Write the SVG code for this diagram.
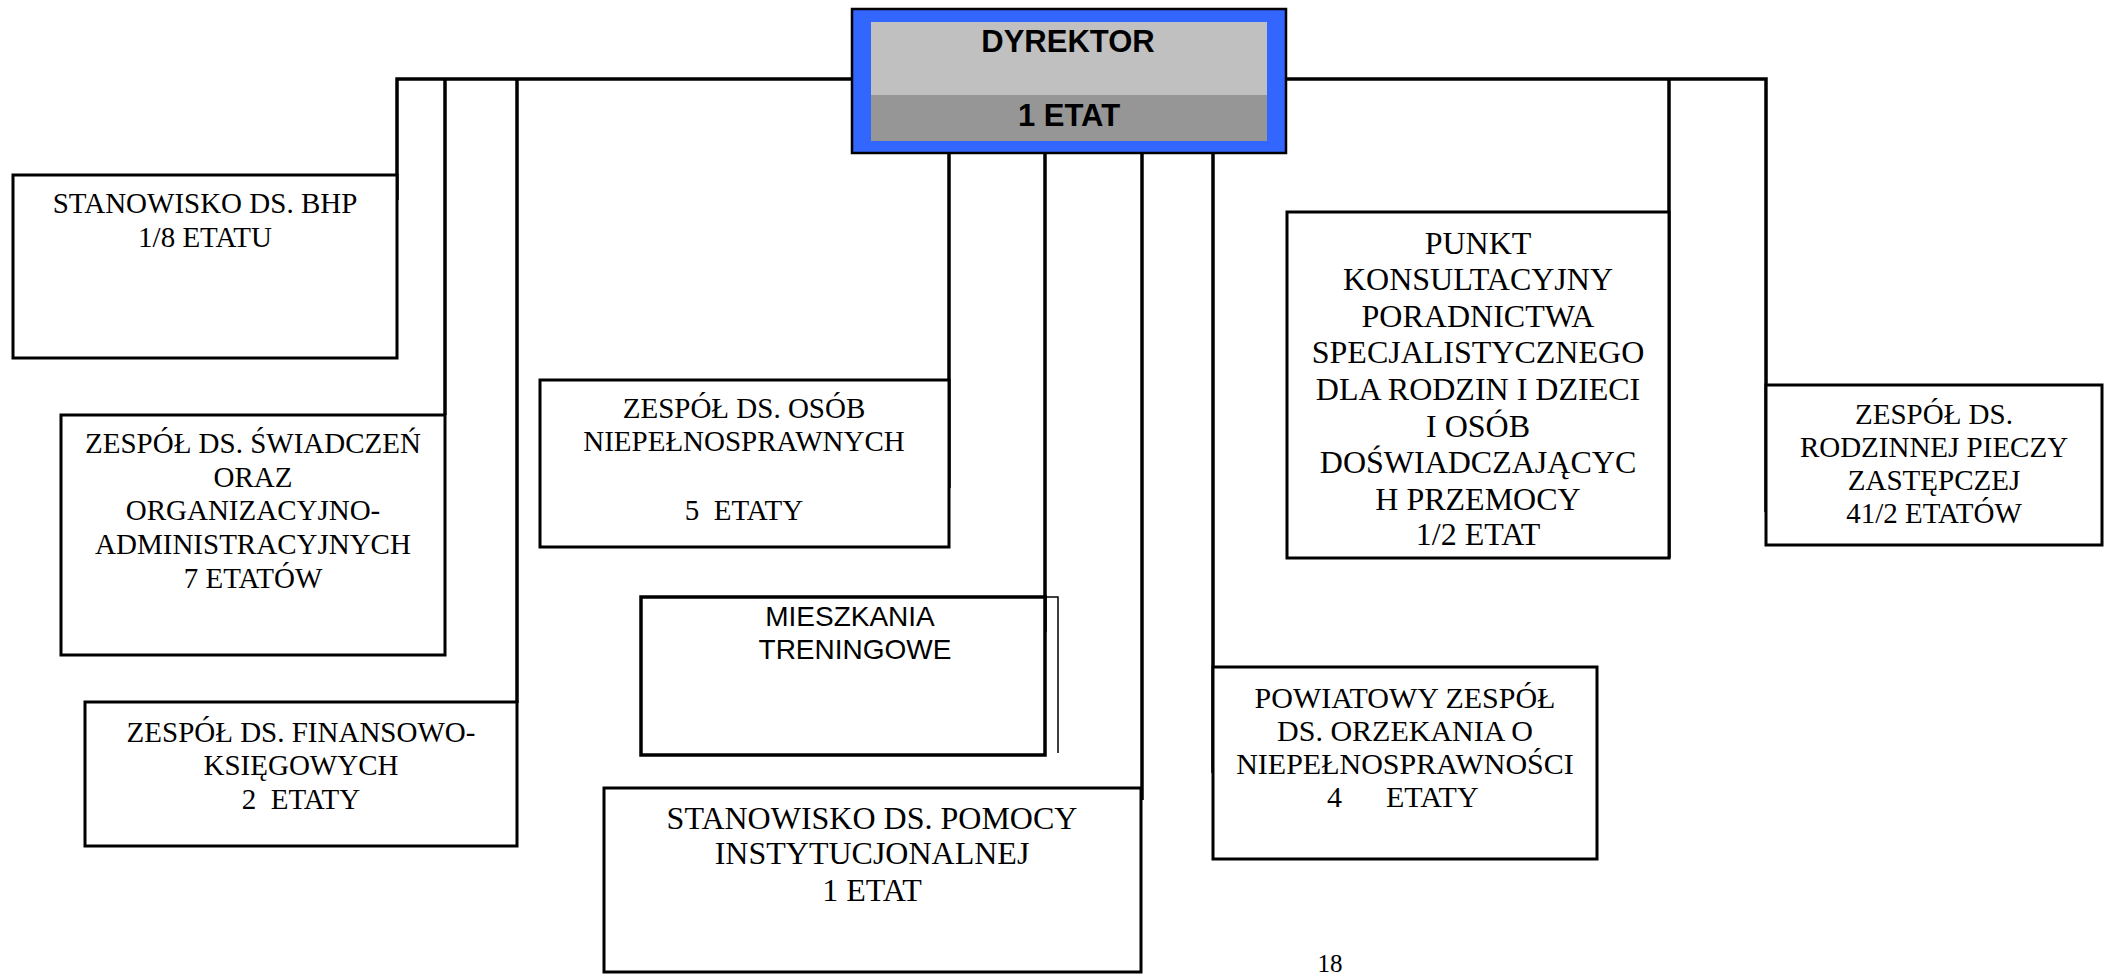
<svg xmlns="http://www.w3.org/2000/svg" width="2111" height="978" viewBox="0 0 2111 978">
<style>
.box{fill:#fff;stroke:#000;stroke-width:3}
.conn{fill:none;stroke:#000;stroke-width:3.5}
.t{font-family:"Liberation Serif","Times New Roman",serif;font-size:29px;text-anchor:middle;fill:#000}
.tb{font-family:"Liberation Serif","Times New Roman",serif;font-size:32px;text-anchor:middle;fill:#000}
.tm{font-family:"Liberation Serif","Times New Roman",serif;font-size:30px;text-anchor:middle;fill:#000}
.s{font-family:"Liberation Sans",Arial,sans-serif;font-size:28px;text-anchor:middle;fill:#000}
.d{font-family:"Liberation Sans",Arial,sans-serif;font-size:31px;font-weight:bold;text-anchor:middle;fill:#000}
</style>
<rect width="2111" height="978" fill="#fff"/>
<g id="connectors">
<path class="conn" d="M397,200 V79 H852"/>
<path class="conn" d="M445,79 V415"/>
<path class="conn" d="M517,79 V703"/>
<path class="conn" d="M1286,79 H1766 V512"/>
<path class="conn" d="M1669,79 V558"/>
<path class="conn" d="M949,150 V488"/>
<path class="conn" d="M1045,150 V632"/>
<path class="conn" d="M1142,150 V800"/>
<path class="conn" d="M1213,150 V773"/>
</g>
<g id="dyrektor">
<rect x="852" y="9" width="434" height="144" fill="#3366ff" stroke="#000" stroke-width="2.5"/>
<rect x="871" y="22" width="396" height="73" fill="#c0c0c0"/>
<rect x="871" y="95" width="396" height="46" fill="#969696"/>
<text class="d" x="1068" y="52">DYREKTOR</text>
<text class="d" x="1069" y="126">1 ETAT</text>
</g>
<g id="bhp">
<rect class="box" x="13" y="175" width="384" height="183"/>
<text class="t" x="205" y="213">STANOWISKO DS. BHP</text>
<text class="t" x="205" y="247">1/8 ETATU</text>
</g>
<g id="swiadczen">
<rect class="box" x="61" y="415" width="384" height="240"/>
<text class="t" x="253" y="453">ZESPÓŁ DS. ŚWIADCZEŃ</text>
<text class="t" x="253" y="487">ORAZ</text>
<text class="t" x="253" y="520">ORGANIZACYJNO-</text>
<text class="t" x="253" y="554">ADMINISTRACYJNYCH</text>
<text class="t" x="253" y="588">7 ETATÓW</text>
</g>
<g id="finansowo">
<rect class="box" x="85" y="702" width="432" height="144"/>
<text class="t" x="301" y="742">ZESPÓŁ DS. FINANSOWO-</text>
<text class="t" x="301" y="775">KSIĘGOWYCH</text>
<text class="t" x="301" y="809" xml:space="preserve">2  ETATY</text>
</g>
<g id="osob">
<rect class="box" x="540" y="380" width="409" height="167"/>
<text class="t" x="744" y="418">ZESPÓŁ DS. OSÓB</text>
<text class="t" x="744" y="451">NIEPEŁNOSPRAWNYCH</text>
<text class="t" x="744" y="520" xml:space="preserve">5  ETATY</text>
</g>
<g id="mieszkania">
<polyline points="1045,597 1058,597 1058,753" fill="none" stroke="#000" stroke-width="1.5"/>
<rect x="641" y="597" width="404" height="158" fill="#fff" stroke="#000" stroke-width="3.5"/>
<text class="s" x="850" y="626">MIESZKANIA</text>
<text class="s" x="855" y="659">TRENINGOWE</text>
</g>
<g id="pomocy">
<rect class="box" x="604" y="788" width="537" height="184"/>
<text class="tb" x="872" y="829">STANOWISKO DS. POMOCY</text>
<text class="tb" x="872" y="864">INSTYTUCJONALNEJ</text>
<text class="tb" x="872" y="901">1 ETAT</text>
</g>
<g id="punkt">
<rect class="box" x="1287" y="212" width="382" height="346"/>
<text class="tb" x="1478" y="254">PUNKT</text>
<text class="tb" x="1478" y="290">KONSULTACYJNY</text>
<text class="tb" x="1478" y="327">PORADNICTWA</text>
<text class="tb" x="1478" y="363">SPECJALISTYCZNEGO</text>
<text class="tb" x="1478" y="400">DLA RODZIN I DZIECI</text>
<text class="tb" x="1478" y="437">I OSÓB</text>
<text class="tb" x="1478" y="473">DOŚWIADCZAJĄCYC</text>
<text class="tb" x="1478" y="510">H PRZEMOCY</text>
<text class="tb" x="1478" y="545">1/2 ETAT</text>
</g>
<g id="powiatowy">
<rect class="box" x="1213" y="667" width="384" height="192"/>
<text class="tm" x="1405" y="708">POWIATOWY ZESPÓŁ</text>
<text class="tm" x="1405" y="741">DS. ORZEKANIA O</text>
<text class="tm" x="1405" y="774">NIEPEŁNOSPRAWNOŚCI</text>
<text class="tm" y="807" style="text-anchor:start"><tspan x="1327">4</tspan><tspan x="1386">ETATY</tspan></text>
</g>
<g id="rodzinnej">
<rect class="box" x="1766" y="385" width="336" height="160"/>
<text class="t" x="1934" y="424">ZESPÓŁ DS.</text>
<text class="t" x="1934" y="457">RODZINNEJ PIECZY</text>
<text class="t" x="1934" y="490">ZASTĘPCZEJ</text>
<text class="t" x="1934" y="523">41/2 ETATÓW</text>
</g>
<text class="t" x="1330" y="972" style="font-size:25px">18</text>
</svg>
